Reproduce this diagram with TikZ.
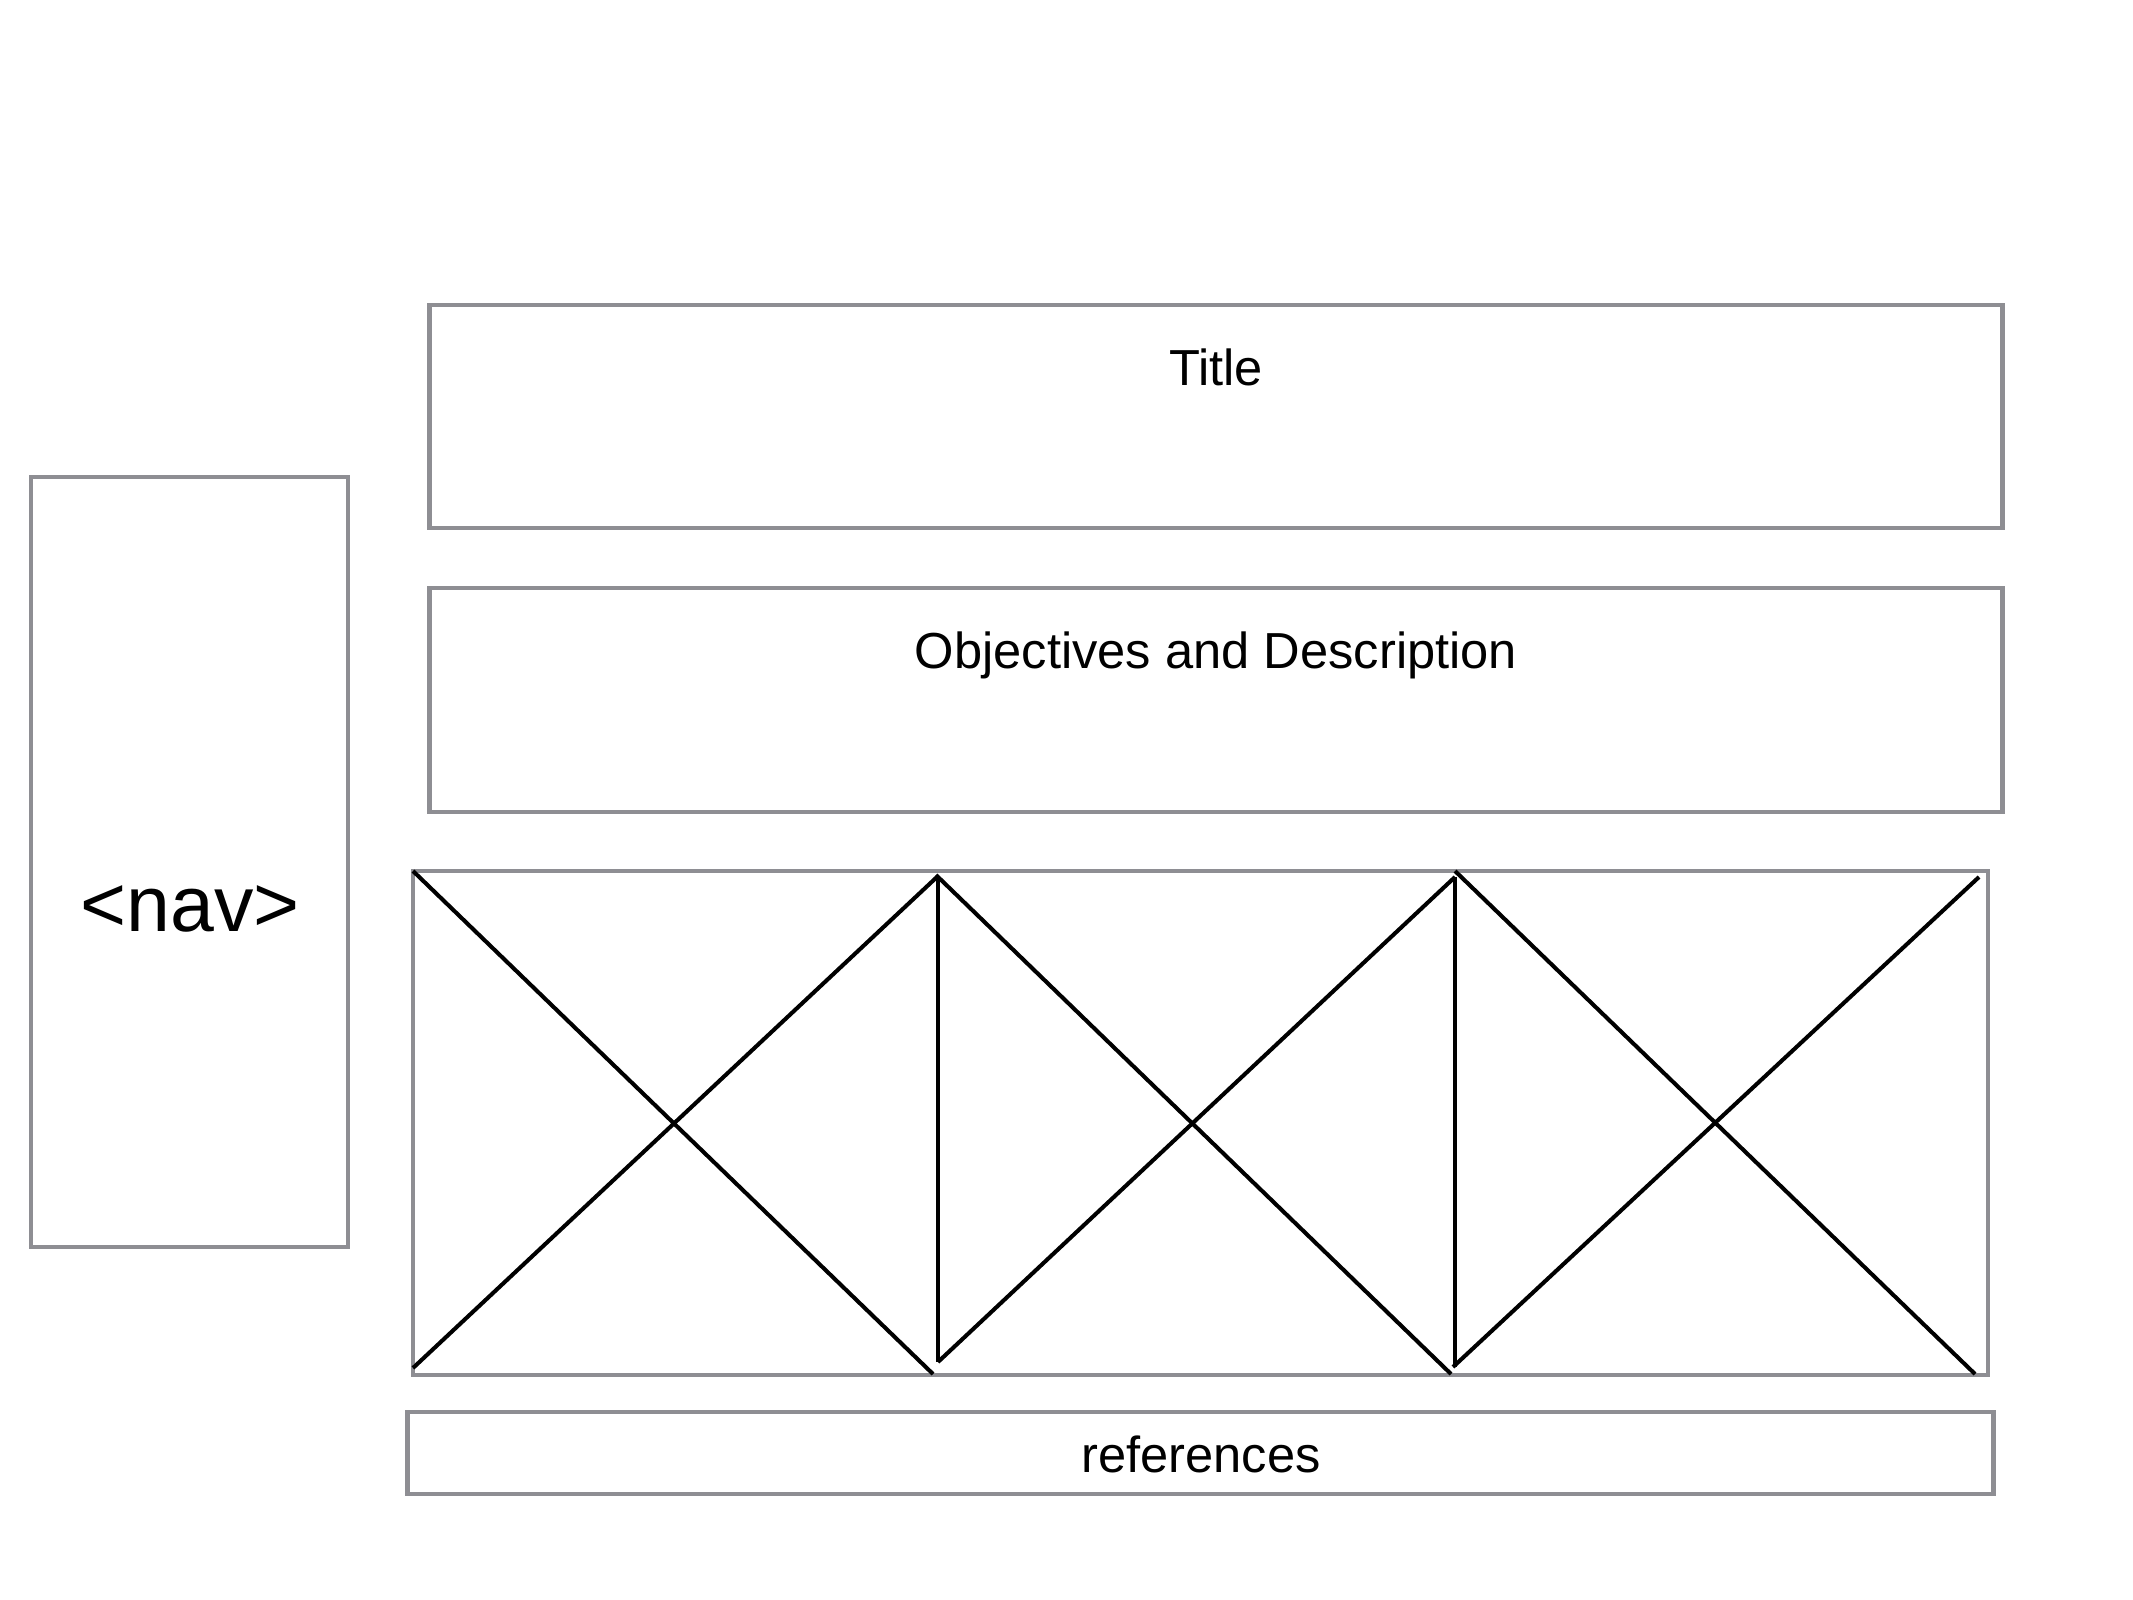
\documentclass[tikz,border=0pt]{standalone}
\usepackage{fontspec}
\setmainfont{Liberation Sans}
\begin{document}
\begin{tikzpicture}[x=0.01cm,y=-0.01cm,
  frame/.style={draw=boxgrey, line width=1.2pt, fill=white, inner sep=0pt},
  label/.style={anchor=base, inner sep=0pt, font=\fontsize{14.4pt}{17pt}\selectfont},
  cross/.style={draw=black, line width=1.15pt}]
\definecolor{boxgrey}{RGB}{142,142,147}
\useasboundingbox[fill=white] (0,0) rectangle (2133,1600);

% page regions
\node[frame, minimum width=15.72cm, minimum height=2.23cm] (title) at (1216,416.5) {};
\node[frame, minimum width=15.72cm, minimum height=2.24cm] (objectives) at (1216,700) {};
\node[frame, minimum width=3.17cm, minimum height=7.69cm] (nav) at (189.5,862) {};
\node[frame, minimum width=15.74cm, minimum height=5.04cm] (gallery) at (1200.5,1123) {};
\node[frame, minimum width=15.85cm, minimum height=0.82cm] (refs) at (1200.5,1453) {};

% captions
\node[label] (titletext) at (1216,385) {Title};
\node[label] (objtext) at (1216,668) {Objectives and Description};
\node[label] (reftext) at (1201,1472) {references};
\node[label, font=\fontsize{22.4pt}{26pt}\selectfont] (navtext) at (190,931) {<nav>};

% image placeholders: three crossed panels
\coordinate (a1) at (413,871);  \coordinate (b1) at (933,1374);
\coordinate (c1) at (413,1368); \coordinate (d1) at (938,876);
\coordinate (v1) at (938,1362);
\coordinate (a2) at (936,875);  \coordinate (b2) at (1451,1374);
\coordinate (d2) at (1455,877);
\coordinate (v2) at (1455,1367);
\coordinate (a3) at (1455,871); \coordinate (b3) at (1975,1374);
\coordinate (c3) at (1453,1367); \coordinate (d3) at (1979,877);

\draw[cross] (a1) -- (b1);
\draw[cross] (c1) -- (d1);
\draw[cross] (d1) -- (v1);
\draw[cross] (a2) -- (b2);
\draw[cross] (v1) -- (d2);
\draw[cross] (d2) -- (v2);
\draw[cross] (a3) -- (b3);
\draw[cross] (c3) -- (d3);
\end{tikzpicture}
\end{document}
